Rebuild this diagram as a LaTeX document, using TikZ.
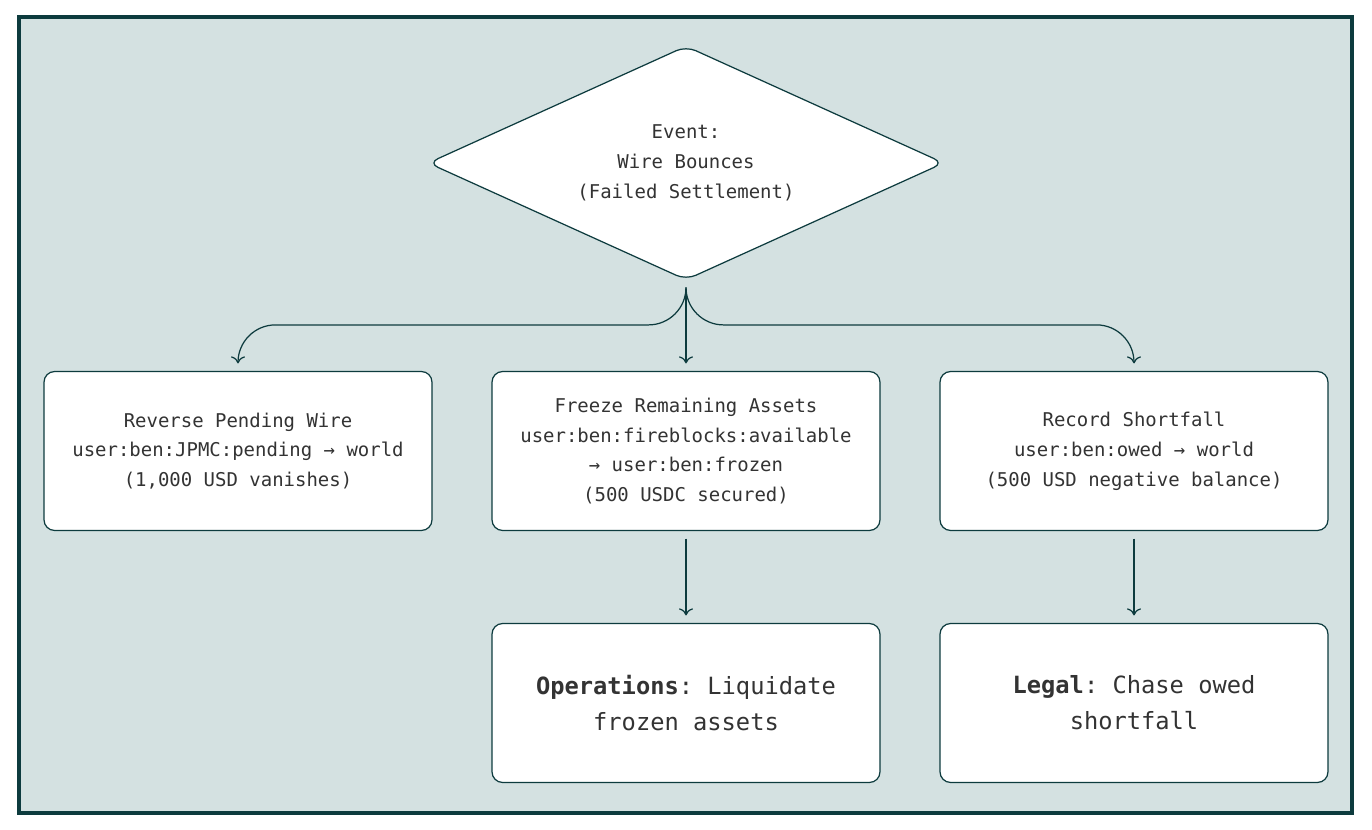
\documentclass[tikz,border=0pt]{standalone}
\usepackage{fontspec}
\setmonofont{DejaVu Sans Mono}
\usetikzlibrary{shapes.geometric,arrows.meta,positioning}
\definecolor{ink}{HTML}{0D3B3E}
\definecolor{pane}{HTML}{D4E1E1}
\tikzset{
  box/.style={draw=ink,line width=0.7pt,fill=white,rounded corners=6pt,
    minimum width=7.76cm,minimum height=3.18cm,align=center,
    font=\ttfamily\fontsize{10.8}{17}\selectfont,text=black!80},
  bigbox/.style={box,font=\ttfamily\fontsize{13.5}{20.5}\selectfont},
  arr/.style={draw=ink,line width=0.7pt,-{To[length=4pt,width=8pt]}}
}
\begin{document}
\begin{tikzpicture}[x=0.02cm,y=-0.02cm]
  \useasboundingbox (0,0) rectangle (1372,830);
  \filldraw[draw=ink,line width=2.2pt,fill=pane] (19,17) rectangle (1352,813);

  \node[diamond,draw=ink,line width=0.7pt,fill=white,rounded corners=6pt,
    minimum width=10.32cm,minimum height=4.68cm,aspect=2.2,inner sep=0pt,
    align=center,font=\ttfamily\fontsize{10.8}{17}\selectfont,text=black!80]
    (event) at (686,163) {Event:\\Wire Bounces\\(Failed Settlement)};

  \node[box] (reverse) at (238,451) {Reverse Pending Wire\\user:ben:JPMC:pending → world\\(1,000 USD vanishes)};
  \node[box] (freeze) at (686,451) {Freeze Remaining Assets\\user:ben:fireblocks:available\\→ user:ben:frozen\\(500 USDC secured)};
  \node[box] (record) at (1134,451) {Record Shortfall\\user:ben:owed → world\\(500 USD negative balance)};

  \node[bigbox] (ops) at (686,703) {\textbf{Operations}: Liquidate\\frozen assets};
  \node[bigbox] (legal) at (1134,703) {\textbf{Legal}: Chase owed\\shortfall};

  \coordinate (split) at (686,289);
  \draw[arr,rounded corners=0.75cm] (split) |- ([yshift=0.92cm]reverse.north) -- ([yshift=0.15cm]reverse.north);
  \draw[arr,rounded corners=0.75cm] (split) |- ([yshift=0.92cm]record.north) -- ([yshift=0.15cm]record.north);
  \draw[arr] (split) -- ([yshift=0.15cm]freeze.north);
  \draw[arr] ([yshift=-0.15cm]freeze.south) -- ([yshift=0.15cm]ops.north);
  \draw[arr] ([yshift=-0.15cm]record.south) -- ([yshift=0.15cm]legal.north);
\end{tikzpicture}
\end{document}
